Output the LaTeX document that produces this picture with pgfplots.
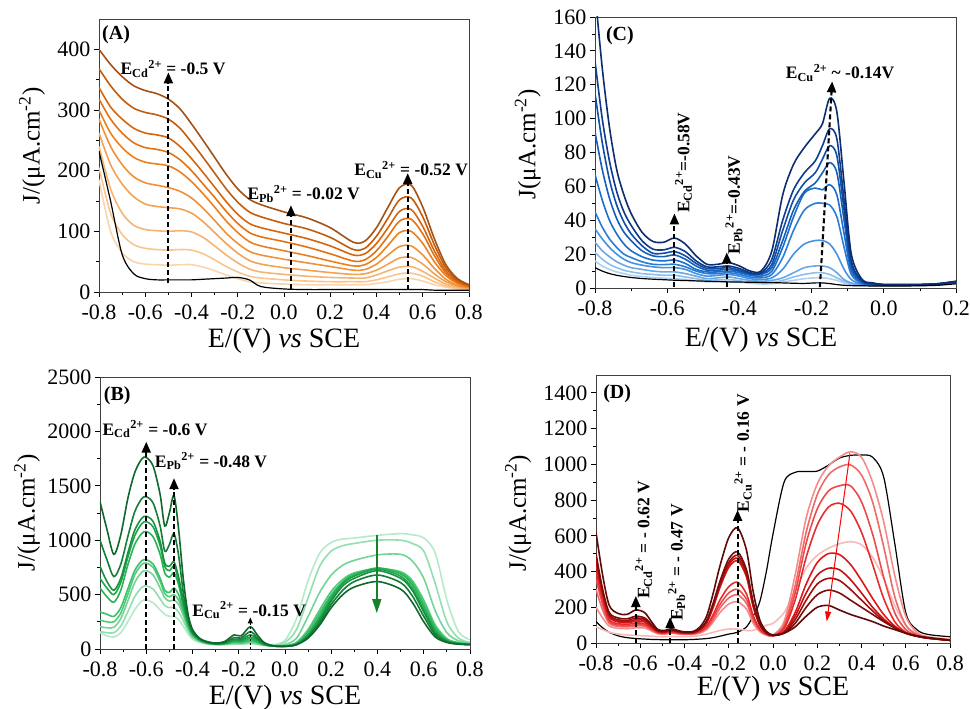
\documentclass[border=0pt]{standalone}
\usepackage{fontspec}
\setmainfont{Liberation Serif}
\usepackage{pgfplots}
\pgfplotsset{compat=1.18}
\usepackage{pgfplotstable}
\usetikzlibrary{arrows.meta}

% orange (A)
\definecolor{A1}{RGB}{165,82,22}\definecolor{A2}{RGB}{196,92,10}\definecolor{A3}{RGB}{214,102,12}
\definecolor{A4}{RGB}{228,114,18}\definecolor{A5}{RGB}{236,128,32}\definecolor{A6}{RGB}{240,145,56}
\definecolor{A7}{RGB}{243,162,84}\definecolor{A8}{RGB}{246,180,114}\definecolor{A9}{RGB}{248,196,144}
\definecolor{A10}{RGB}{250,212,172}
% green (B)
\definecolor{B1}{RGB}{15,105,45}\definecolor{B2}{RGB}{20,125,55}\definecolor{B3}{RGB}{25,145,65}
\definecolor{B4}{RGB}{30,165,75}\definecolor{B5}{RGB}{40,180,85}\definecolor{B6}{RGB}{60,192,105}
\definecolor{B7}{RGB}{85,202,125}\definecolor{B8}{RGB}{115,212,150}\definecolor{B9}{RGB}{145,222,175}
\definecolor{B10}{RGB}{180,235,200}
% blue (C)
\definecolor{C1}{RGB}{12,45,110}\definecolor{C2}{RGB}{14,60,140}\definecolor{C3}{RGB}{16,78,165}
\definecolor{C4}{RGB}{20,95,185}\definecolor{C5}{RGB}{26,110,205}\definecolor{C6}{RGB}{40,125,215}
\definecolor{C7}{RGB}{70,145,225}\definecolor{C8}{RGB}{105,168,232}\definecolor{C9}{RGB}{140,190,238}
\definecolor{C10}{RGB}{175,210,243}
% red (D)
\definecolor{D1}{RGB}{95,10,10}\definecolor{D2}{RGB}{125,12,12}\definecolor{D3}{RGB}{160,14,14}
\definecolor{D4}{RGB}{195,18,18}\definecolor{D5}{RGB}{220,25,25}\definecolor{D6}{RGB}{230,45,45}
\definecolor{D7}{RGB}{236,75,75}\definecolor{D8}{RGB}{240,105,105}\definecolor{D9}{RGB}{244,140,140}
\definecolor{D10}{RGB}{248,185,185}
\definecolor{arrgreen}{RGB}{20,130,40}

\pgfplotstableread{
x a1 a2 a3 a4 a5 a6 a7 a8 a9 a10 k
-0.8 400 368 337 318 300 285 262 240 205 185 232
-0.75 375 340 305 285 262 240 210 170 130 100 150
-0.7 355 318 285 262 238 210 178 130 95 65 62
-0.65 340 303 270 246 222 190 157 110 78 50 30
-0.6 332 296 262 238 214 180 145 103 72 46 22
-0.55 327 292 259 235 211 176 141 101 70 45 20
-0.5 318 285 254 230 208 172 139 100 69 44 20
-0.45 302 270 240 218 198 166 137 101 70 45 20
-0.4 277 247 220 200 182 155 130 99 69 45 20
-0.35 250 222 197 178 162 138 116 90 63 41 21
-0.3 222 196 173 156 140 118 98 76 53 35 22
-0.25 194 170 149 133 117 97 80 61 42 28 23
-0.2 170 148 128 113 98 80 64 48 33 22 24
-0.15 153 132 113 98 83 67 52 38 26 17 20
-0.1 144 124 106 91 76 61 46 33 23 15 9
0 132 113 97 83 68 54 40 29 20 13 5
0.1 122 104 88 74 60 48 36 26 18 12 4
0.2 106 90 76 63 51 42 32 24 17 12 4
0.3 82 70 61 51 43 36 29 23 17 12 4
0.35 84 72 63 53 45 37 30 23 17 12 4
0.4 106 92 80 68 57 46 36 28 20 14 4
0.45 140 122 106 92 77 61 46 35 25 17 4
0.5 172 152 133 117 98 75 56 41 30 21 4
0.55 176 155 136 120 100 76 57 42 31 22 4
0.6 140 124 108 96 80 61 46 34 26 18 4
0.65 88 78 68 60 50 39 30 23 17 12 3
0.7 45 40 35 31 27 21 17 13 10 8 3
0.75 22 20 18 16 14 11 10 8 6 5 3
0.8 12 11 10 9 8 7 6 5 5 4 3
}\tabA

\pgfplotstableread{
x c1 c2 c3 c4 c5 c6 c7 c8 c9 c10 k
-0.8 175 134 115 92 67 45 35 27 21 16 12
-0.78 130 100 86 70 52 36 29 22 17 13 10
-0.76 95 75 64 53 40 29 24 18.5 14 11 8.5
-0.74 70 57 49 41 32 24 20 15.5 12 9.5 7.5
-0.72 55 45 39 33 26 20 17 13.5 10.5 8.5 6.8
-0.7 44 37 32 28 22 18 15 12 9.5 7.5 6.2
-0.67 33 28 25 22 18.5 15.5 13.5 11 8.5 6.8 5.6
-0.64 27.5 23 20.5 19 16.5 14 12.5 10 8 6.2 5.2
-0.61 27 22.5 20.5 18.5 16 13.8 12 9.5 7.5 5.8 4.9
-0.58 29.5 24 21.5 19.5 16.5 14 12 9.5 7.5 5.5 4.6
-0.55 26 21.5 19 17 14.5 12.5 11 8.5 6.5 5 4.4
-0.52 19 16 14.5 13 11 10 8.5 7 5.5 4.2 4.2
-0.49 14 12.5 11.5 10.5 9.5 8.5 7 5.5 4.5 3.6 4
-0.46 14 12.5 11.5 10.5 9.5 8.5 7.5 6 4.8 3.8 3.8
-0.43 15 13 12 11 10 9 8 6.5 5 4 3.6
-0.4 13 11.5 10.5 9.8 9 8 7 5.5 4.3 3.4 3.5
-0.37 10 9 8.5 8 7.5 6.5 5.5 4.5 3.5 2.8 3.4
-0.34 10 9 8.5 8 7 6 5 4 3 2.4 3.3
-0.31 22 17 14 12 10 8 6 4.5 3.2 2.5 3.2
-0.28 55 40 34 28 24 18 11 6 4.5 3.5 3
-0.25 73 58 52 46 42 34 20 9 6.5 4.5 2.8
-0.22 83 68 62 57 56 46 26 12 8 5.5 2.7
-0.19 91 75 68 62 59 50 28 13 9 6 3
-0.17 97 84 76 68 58 50 28 13 9 6 3
-0.15 112 94 84 74 61 49 26 12 8 5.5 2.6
-0.13 104 88 78 68 55 42 20 9 6 4.5 2
-0.11 62 52 46 40 32 24 11 5 4 3 1.6
-0.09 20 16 14 12 10 8 5 3 2.5 2 1.4
-0.06 5 4 4 3.5 3 2.5 2 1.8 1.7 1.5 1.3
-0.03 3 2.5 2.5 2.3 2.2 2 1.8 1.6 1.5 1.4 1.2
0 2 2 2 2 2 1.8 1.7 1.6 1.5 1.4 1.2
0.05 2 2 2 2 2 1.8 1.7 1.6 1.5 1.4 1.2
0.1 2 2 2 2 2 1.8 1.8 1.7 1.6 1.5 1.3
0.15 2.5 2.5 2.5 2.4 2.3 2.2 2.1 2 2 1.9 1.6
0.2 4 3.8 3.7 3.6 3.5 3.4 3.3 3.2 3.1 3 2.5
}\tabC

\pgfplotstableread{
x b1 b2 b3 b4 b5 b6 b7 b8 b9 b10
-0.8 1354 1000 760 650 560 340 265 205 160 150
-0.77 1100 820 620 560 480 320 250 195 150 120
-0.74 870 665 540 500 430 300 250 200 150 110
-0.71 1050 780 650 610 540 380 330 280 210 150
-0.68 1380 1030 880 840 770 550 500 440 340 250
-0.65 1620 1260 1090 1040 960 720 680 610 480 360
-0.62 1745 1380 1200 1150 1060 810 775 705 565 440
-0.6 1760 1400 1220 1170 1080 820 790 720 580 450
-0.57 1680 1340 1170 1120 1030 780 750 680 550 425
-0.54 1420 1130 990 950 870 650 620 560 460 360
-0.52 1130 900 790 760 700 540 510 470 400 320
-0.5 1250 960 760 720 660 520 480 440 380 300
-0.48 1410 1060 800 760 700 560 500 450 380 300
-0.46 1100 860 660 630 590 500 450 410 340 270
-0.44 650 520 440 420 400 360 340 310 260 210
-0.42 330 290 260 250 240 220 210 190 170 140
-0.4 180 165 150 145 140 130 125 115 105 90
-0.37 100 95 90 88 85 80 78 72 68 62
-0.34 70 65 62 60 58 56 55 52 50 48
-0.3 55 50 48 47 46 45 44 42 41 40
-0.26 70 60 55 52 50 48 46 44 42 40
-0.22 130 105 90 80 72 65 60 54 48 44
-0.19 120 100 85 75 68 62 57 52 47 44
-0.15 205 160 130 110 95 80 72 62 54 48
-0.12 130 105 90 78 70 62 57 50 45 42
-0.09 60 50 45 42 40 38 37 36 35 34
-0.05 30 28 27 27 27 28 29 30 32 40
0 25 24 24 25 26 28 30 40 60 80
0.05 40 40 42 45 48 55 60 100 180 280
0.1 100 110 120 130 140 160 180 300 470 630
0.15 220 240 260 280 300 330 360 520 760 880
0.2 380 410 440 460 480 500 530 680 900 980
0.25 500 540 580 600 610 620 640 770 950 1010
0.3 570 620 650 670 680 690 700 815 970 1020
0.4 620 680 720 735 745 735 740 865 1000 1045
0.5 550 610 650 670 690 700 710 870 1000 1060
0.55 430 490 540 560 590 610 630 810 970 1050
0.6 250 300 340 360 390 420 450 650 900 1020
0.65 110 130 150 160 180 200 220 350 600 880
0.7 60 65 70 75 80 85 95 150 250 450
0.75 45 45 48 50 52 55 58 75 100 160
0.8 40 40 42 42 43 45 46 52 60 85
}\tabB

\pgfplotstableread{
x d1 d2 d3 d4 d5 d6 d7 d8 d9 d10 k
-0.8 620 500 480 460 440 400 360 300 200 90 120
-0.77 380 300 290 280 265 240 215 185 140 75 85
-0.74 210 170 160 150 145 130 120 110 95 60 60
-0.7 165 140 130 122 118 108 100 93 82 50 40
-0.66 160 135 125 118 113 104 96 90 80 45 30
-0.62 185 150 140 130 122 112 103 96 85 42 25
-0.58 170 140 132 125 118 108 100 94 84 40 22
-0.55 120 105 100 95 90 84 78 74 68 38 20
-0.52 75 70 68 66 64 60 57 55 52 36 19
-0.49 70 66 64 62 60 57 54 52 50 35 18
-0.46 80 75 72 70 68 64 61 58 55 36 18
-0.43 70 66 64 62 61 58 55 53 51 36 18
-0.4 62 60 58 57 56 54 52 50 48 36 18
-0.36 65 62 60 59 58 55 53 51 49 38 20
-0.33 90 80 78 76 74 68 64 60 56 42 22
-0.3 150 125 120 116 112 95 88 82 75 50 25
-0.27 280 225 215 208 200 160 145 132 118 60 30
-0.24 430 345 330 320 310 240 215 195 170 70 38
-0.2 590 470 450 437 423 315 280 252 218 78 50
-0.16 644 510 490 475 460 340 300 270 230 78 60
-0.12 520 410 395 382 370 275 245 222 190 70 90
-0.09 290 230 220 212 205 155 140 128 112 70 150
-0.06 130 110 105 102 100 80 75 70 64 85 230
-0.03 65 60 58 56 55 50 48 46 45 100 400
0 45 42 42 42 42 42 42 42 45 110 610
0.05 55 55 58 60 65 80 90 100 120 170 900
0.1 90 110 130 150 170 240 280 320 380 290 955
0.15 150 200 240 280 330 480 560 620 700 420 960
0.2 200 270 330 380 450 660 750 830 890 490 962
0.25 210 296 362 418 500 760 850 940 990 530 995
0.3 185 280 350 410 495 782 880 985 1040 555 1035
0.35 160 240 300 355 440 740 880 997 1070 567 1050
0.4 140 200 240 280 350 620 790 940 1040 550 1052
0.45 120 160 180 200 250 440 610 790 900 480 1040
0.5 95 120 125 135 160 250 370 540 680 360 930
0.55 75 85 85 88 95 120 170 260 380 210 560
0.6 55 55 55 55 58 60 75 100 150 100 170
0.65 40 38 38 38 40 38 42 48 60 50 75
0.7 30 28 28 28 28 26 28 30 35 32 48
0.8 15 15 15 15 15 15 16 18 20 20 35
}\tabD

\tikzset{
  ann/.style={font=\bfseries\fontsize{17.5}{17.5}\selectfont, inner sep=0pt},
  plab/.style={anchor=north west, font=\bfseries\fontsize{20}{20}\selectfont, inner sep=0pt},
}
\pgfplotsset{
  panel/.style={
    scale only axis, anchor=south west, clip mode=individual,
    tick align=outside, tick pos=left,
    major tick length=5pt, minor tick length=3pt,
    every tick/.style={line width=0.8pt, black},
    axis line style={line width=0.8pt, black!75},
    tick label style={font=\fontsize{22}{22}\selectfont},
    ylabel style={font=\fontsize{25}{25}\selectfont},
    xlabel style={font=\fontsize{28}{28}\selectfont},
    /pgf/number format/assume math mode=true,
    /pgf/number format/1000 sep={},
    scaled ticks=false,
    minor x tick num=1, minor y tick num=1,
    xmin=-0.8, ymin=0,
    xticklabel style={yshift=-4pt, /pgf/number format/.cd, fixed, fixed zerofill, precision=1},
    yticklabel style={/pgf/number format/.cd, fixed, precision=0},
    xlabel={E/(V) \textit{vs} SCE},
  },
  cv/.style={smooth, line width=1.6pt},
  dasharr/.style={/tikz/line width=2.1pt, /tikz/dash pattern=on 5pt off 3pt, -{Triangle[length=11pt,width=9pt]}},
}

\begin{document}
\begin{tikzpicture}
\useasboundingbox (0,0) rectangle (970pt,709pt);

% ---------------- (A) ----------------
\begin{axis}[panel, at={(99pt,417pt)}, width=370pt, height=273pt,
  xmax=0.8, ymax=450,
  xtick={-0.8,-0.6,-0.4,-0.2,0,0.2,0.4,0.6,0.8},
  ytick={0,100,200,300,400},
  ylabel={J/(μA.cm\textsuperscript{-2})},
  ylabel style={at={(axis description cs:-0.181,0.535)}, anchor=center},
  xlabel style={at={(axis description cs:0.5,-0.18)}, anchor=center},
]
\addplot[cv, A10] table[x=x,y=a10]{\tabA};
\addplot[cv, A9] table[x=x,y=a9]{\tabA};
\addplot[cv, A8] table[x=x,y=a8]{\tabA};
\addplot[cv, A7] table[x=x,y=a7]{\tabA};
\addplot[cv, A6] table[x=x,y=a6]{\tabA};
\addplot[cv, A5] table[x=x,y=a5]{\tabA};
\addplot[cv, A4] table[x=x,y=a4]{\tabA};
\addplot[cv, A3] table[x=x,y=a3]{\tabA};
\addplot[cv, A2] table[x=x,y=a2]{\tabA};
\addplot[cv, A1] table[x=x,y=a1]{\tabA};
\addplot[smooth, line width=1.2pt, black] table[x=x,y=k]{\tabA};
\addplot[dasharr] coordinates {(-0.5,15) (-0.5,362)};
\addplot[dasharr] coordinates {(0.03,5) (0.03,143)};
\addplot[dasharr] coordinates {(0.535,3) (0.535,196)};
\node[plab] at (rel axis cs:0.008,0.975) {(A)};
\node[ann] at (axis cs:-0.48,368) {E\textsubscript{Cd}\textsuperscript{2+} = -0.5 V};
\node[ann] at (axis cs:0.085,162) {E\textsubscript{Pb}\textsuperscript{2+} = -0.02 V};
\node[ann] at (axis cs:0.55,201) {E\textsubscript{Cu}\textsuperscript{2+} = -0.52 V};
\end{axis}

% ---------------- (C) ----------------
\begin{axis}[panel, at={(595pt,421pt)}, width=361pt, height=271pt,
  xmax=0.2, ymax=160,
  xtick={-0.8,-0.6,-0.4,-0.2,0,0.2},
  ytick={0,20,40,60,80,100,120,140,160},
  ylabel={J(μA.cm\textsuperscript{-2})},
  ylabel style={at={(axis description cs:-0.186,0.53)}, anchor=center},
  xlabel style={at={(axis description cs:0.46,-0.19)}, anchor=center},
]
\addplot[cv, C10] table[x=x,y=c10]{\tabC};
\addplot[cv, C9] table[x=x,y=c9]{\tabC};
\addplot[cv, C8] table[x=x,y=c8]{\tabC};
\addplot[cv, C7] table[x=x,y=c7]{\tabC};
\addplot[cv, C6] table[x=x,y=c6]{\tabC};
\addplot[cv, C5] table[x=x,y=c5]{\tabC};
\addplot[cv, C4] table[x=x,y=c4]{\tabC};
\addplot[cv, C3] table[x=x,y=c3]{\tabC};
\addplot[cv, C2] table[x=x,y=c2]{\tabC};
\addplot[cv, C1] table[x=x,y=c1]{\tabC};
\addplot[smooth, line width=1.2pt, black] table[x=x,y=k]{\tabC};
\addplot[dasharr] coordinates {(-0.58,0.5) (-0.58,44)};
\addplot[dasharr] coordinates {(-0.435,0.5) (-0.435,21)};
\addplot[dasharr] coordinates {(-0.177,0.5) (-0.143,122)};
\node[plab] at (rel axis cs:0.03,0.965) {(C)};
\node[ann, rotate=90] at (axis cs:-0.555,74) {E\textsubscript{Cd}\textsuperscript{2+}=-0.58V};
\node[ann, rotate=90] at (axis cs:-0.415,49) {E\textsubscript{Pb}\textsuperscript{2+}=-0.43V};
\node[ann] at (axis cs:-0.121,127) {E\textsubscript{Cu}\textsuperscript{2+} \textasciitilde{} -0.14V};
\end{axis}

% ---------------- (B) ----------------
\begin{axis}[panel, at={(100pt,60pt)}, width=370pt, height=272pt,
  xmax=0.8, ymax=2500,
  xtick={-0.8,-0.6,-0.4,-0.2,0,0.2,0.4,0.6,0.8},
  ytick={0,500,1000,1500,2000,2500},
  ylabel={J/(μA.cm\textsuperscript{-2})},
  ylabel style={at={(axis description cs:-0.197,0.5)}, anchor=center},
  xlabel style={at={(axis description cs:0.5,-0.18)}, anchor=center},
]
\addplot[cv, B10] table[x=x,y=b10]{\tabB};
\addplot[cv, B9] table[x=x,y=b9]{\tabB};
\addplot[cv, B8] table[x=x,y=b8]{\tabB};
\addplot[cv, B7] table[x=x,y=b7]{\tabB};
\addplot[cv, B6] table[x=x,y=b6]{\tabB};
\addplot[cv, B5] table[x=x,y=b5]{\tabB};
\addplot[cv, B4] table[x=x,y=b4]{\tabB};
\addplot[cv, B3] table[x=x,y=b3]{\tabB};
\addplot[cv, B2] table[x=x,y=b2]{\tabB};
\addplot[cv, B1] table[x=x,y=b1]{\tabB};
\addplot[dasharr] coordinates {(-0.6,0) (-0.6,1905)};
\addplot[dasharr] coordinates {(-0.48,0) (-0.48,1570)};
\addplot[line width=0.9pt, dash pattern=on 2pt off 2pt, -{Triangle[length=6pt,width=5pt]}] coordinates {(-0.15,0) (-0.15,290)};
\addplot[arrgreen, line width=1.6pt, -{Triangle[length=14pt,width=9pt]}] coordinates {(0.397,1045) (0.397,330)};
\node[plab] at (rel axis cs:0.01,0.965) {(B)};
\node[ann, anchor=west] at (axis cs:-0.79,2020) {E\textsubscript{Cd}\textsuperscript{2+} = -0.6 V};
\node[ann] at (axis cs:-0.32,1725) {E\textsubscript{Pb}\textsuperscript{2+} = -0.48 V};
\node[ann] at (axis cs:-0.155,355) {E\textsubscript{Cu}\textsuperscript{2+} = -0.15 V};
\end{axis}

% ---------------- (D) ----------------
\begin{axis}[panel, at={(596pt,66pt)}, width=354pt, height=268pt,
  xmax=0.8, ymax=1500,
  xtick={-0.8,-0.6,-0.4,-0.2,0,0.2,0.4,0.6,0.8},
  ytick={0,200,400,600,800,1000,1200,1400},
  ylabel={J/(μA.cm\textsuperscript{-2})},
  ylabel style={at={(axis description cs:-0.22,0.485)}, anchor=center},
  xlabel style={at={(axis description cs:0.5,-0.172)}, anchor=center},
]
\addplot[smooth, line width=1.2pt, black] table[x=x,y=k]{\tabD};
\addplot[cv, D10] table[x=x,y=d10]{\tabD};
\addplot[cv, D9] table[x=x,y=d9]{\tabD};
\addplot[cv, D8] table[x=x,y=d8]{\tabD};
\addplot[cv, D7] table[x=x,y=d7]{\tabD};
\addplot[cv, D6] table[x=x,y=d6]{\tabD};
\addplot[cv, D5] table[x=x,y=d5]{\tabD};
\addplot[cv, D4] table[x=x,y=d4]{\tabD};
\addplot[cv, D3] table[x=x,y=d3]{\tabD};
\addplot[cv, D2] table[x=x,y=d2]{\tabD};
\addplot[cv, D1] table[x=x,y=d1]{\tabD};
\addplot[dasharr] coordinates {(-0.62,0) (-0.62,263)};
\addplot[dasharr] coordinates {(-0.465,0) (-0.465,145)};
\addplot[dasharr] coordinates {(-0.16,0) (-0.16,745)};
\addplot[red, line width=1pt, -{Triangle[length=10pt,width=6pt]}] coordinates {(0.348,1062) (0.243,120)};
\node[plab] at (rel axis cs:0.02,0.965) {(D)};
\node[ann, rotate=90] at (axis cs:-0.585,577) {E\textsubscript{Cd}\textsuperscript{2+} = - 0.62 V};
\node[ann, rotate=90] at (axis cs:-0.435,450) {E\textsubscript{Pb}\textsuperscript{2+} = - 0.47 V};
\node[ann, rotate=90] at (axis cs:-0.135,1062) {E\textsubscript{Cu}\textsuperscript{2+} = - 0.16 V};
\end{axis}
\end{tikzpicture}
\end{document}
